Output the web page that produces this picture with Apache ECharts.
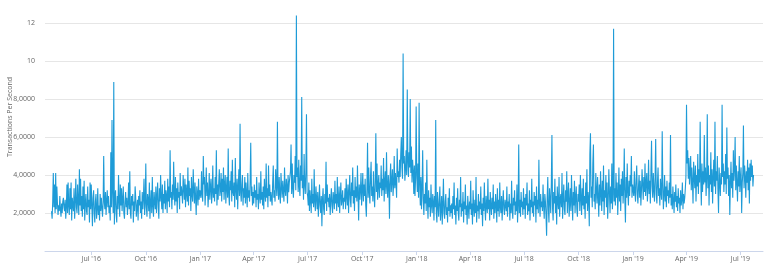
<!DOCTYPE html>
<html><head><meta charset="utf-8">
<script src="https://cdn.jsdelivr.net/npm/echarts@6/dist/echarts.min.js"></script>
<style>html,body{margin:0;padding:0;background:#fff}#c{width:768px;height:266px}</style>
</head><body><div id="c"></div>
<script>
// Y axis ticks and their labels
const yTicks = [0, 2, 4, 6, 8, 10, 12];
const yTickLabels = ['', '2,0000', '4,0000', '6,0000', '8,0000', '10', '12'];
// X axis range and quarterly tick months
const axisStart = '2016-04-14';
const axisEnd = '2019-08-08';
const xTickMonths = [0, 3, 6, 9];
const monthNames = ['Jan','Feb','Mar','Apr','May','Jun','Jul','Aug','Sep','Oct','Nov','Dec'];

// Daily transactions per second, one array per year
const start2016 = '2016-04-25';
const tps2016 = [
2.1,1.7,2.6,4.1,2.3,3.5,
2.0,4.1,2.2,3.4,2.5,1.9,2.4,2.1,2.9,2.2,1.8,2.5,2.0,2.6,2.8,2.3,2.1,2.7,1.7,2.3,3.5,2.0,3.6,2.4,1.9,3.3,2.2,3.6,1.6,2.8,2.4,
2.1,3.3,1.7,2.6,3.8,2.3,2.0,3.5,2.6,1.9,4.3,2.4,3.8,2.1,2.9,1.8,3.4,2.2,3.7,1.6,2.5,3.0,2.1,1.9,3.4,2.3,2.7,1.5,3.6,2.2,
3.5,2.4,1.3,2.8,3.2,2.0,1.5,2.6,3.0,1.7,2.2,3.3,1.9,2.4,1.6,3.0,2.1,2.8,2.3,1.8,2.5,5.0,2.6,2.2,3.1,1.9,2.7,3.2,2.3,2.9,2.0,
2.4,1.6,5.2,2.3,6.9,3.1,2.0,8.9,1.4,2.8,3.2,2.0,1.5,2.9,2.2,4.0,2.6,1.8,3.5,2.4,3.3,2.1,2.7,3.4,2.0,1.7,2.6,3.1,2.3,2.8,1.9,
2.5,3.6,2.2,4.2,2.0,1.7,2.9,2.4,3.0,1.5,2.6,2.1,3.4,2.8,1.8,2.3,2.7,1.6,2.9,2.4,3.2,2.0,2.6,1.7,3.1,2.2,2.8,3.8,1.9,2.5,
4.6,2.3,1.8,3.0,2.7,2.1,3.6,1.7,2.5,3.2,2.0,3.9,2.4,1.8,3.1,2.6,2.2,3.4,2.0,2.9,3.6,2.3,1.7,3.3,2.6,4.0,2.8,2.2,3.5,2.0,3.0,
2.5,3.7,2.2,3.2,2.9,2.0,3.8,2.6,3.4,2.3,5.3,2.8,3.1,2.2,3.5,2.7,4.7,3.0,2.4,3.9,2.6,3.3,2.0,3.6,2.8,3.1,2.2,4.1,2.9,3.4,
3.0,2.5,4.0,3.3,2.7,3.8,2.3,3.5,3.1,2.6,4.4,2.4,3.7,2.9,3.3,2.1,3.9,3.0,2.6,4.3,3.2,2.5,3.6,2.8,1.9,3.4,3.0,2.4,3.8,2.7,3.2
];
const start2017 = '2017-01-01';
const tps2017 = [
3.3,2.8,4.2,3.0,2.6,5.0,3.5,3.9,2.4,3.2,4.4,2.9,3.6,2.3,3.0,4.1,2.7,3.4,3.8,2.5,3.1,4.5,2.8,3.3,2.6,3.9,3.0,5.3,2.4,3.5,2.7,
3.6,4.3,2.9,3.2,4.1,2.6,3.8,3.1,4.4,2.7,3.5,4.0,2.5,3.3,3.9,2.8,5.4,3.0,2.4,3.7,3.2,4.2,2.6,4.8,3.1,2.9,3.6,2.3,
4.9,3.2,2.7,3.8,2.2,3.4,4.3,2.9,6.7,3.1,2.6,3.5,4.0,2.4,3.3,2.8,3.9,2.5,3.6,3.0,2.3,4.1,2.8,3.2,2.6,3.7,5.7,2.9,3.4,2.4,3.1,
2.5,3.5,2.8,3.2,2.3,3.9,2.7,3.0,2.2,3.6,2.9,2.5,4.2,2.7,3.1,2.4,3.4,2.2,3.8,3.0,2.6,4.6,2.8,3.3,2.3,4.5,2.9,3.5,2.6,3.1,
3.0,2.4,3.6,4.5,2.8,3.2,2.6,4.3,3.5,2.9,6.8,3.3,2.7,3.9,3.0,2.5,4.1,3.4,2.8,3.7,3.1,2.6,4.4,3.2,2.9,3.8,3.4,2.5,4.0,3.1,3.6,
3.5,4.2,5.6,3.0,4.6,3.3,2.8,4.0,3.6,5.0,3.2,12.4,3.9,4.4,3.1,4.8,3.4,2.9,4.5,3.7,8.1,3.3,4.0,2.7,5.1,3.5,3.0,4.2,7.2,3.1,
2.9,2.4,3.6,2.1,3.2,2.7,2.0,3.8,2.5,3.0,2.3,4.3,2.6,2.1,3.4,2.8,2.2,3.1,1.8,2.6,3.5,2.4,2.0,2.9,1.3,2.7,3.3,2.2,1.9,3.0,2.5,
4.7,2.1,3.5,2.6,2.8,2.3,3.0,1.9,2.7,3.3,2.4,2.0,3.1,2.8,2.2,3.7,2.5,3.0,2.1,3.9,2.6,2.3,3.4,2.0,2.9,3.6,2.4,2.7,3.2,2.2,2.8,
2.6,3.3,2.2,3.8,2.9,2.4,3.5,2.0,3.1,4.0,2.7,2.3,3.6,2.9,4.4,2.5,3.2,2.1,3.9,2.8,3.4,2.6,4.5,3.0,1.6,3.5,2.7,3.2,4.1,2.4,
3.2,4.1,2.6,3.5,2.9,3.8,2.4,1.8,3.3,5.7,2.8,4.4,3.1,2.5,3.9,4.7,2.9,3.4,2.6,4.2,3.0,2.3,3.7,6.2,3.1,4.6,2.7,3.5,4.0,2.8,3.6,
3.3,4.5,2.9,3.8,3.2,4.9,2.6,3.6,4.2,3.0,5.2,3.4,2.8,4.0,3.5,1.7,3.9,4.6,3.1,3.7,4.3,2.9,3.5,5.0,3.3,4.1,3.6,2.8,5.4,3.9,
4.2,3.6,4.8,3.9,5.1,6.0,4.4,3.8,10.4,4.6,5.0,3.7,4.3,5.3,4.0,8.5,4.7,3.9,5.2,4.4,8.0,4.1,5.5,3.6,4.8,4.2,3.0,4.5,2.9,3.8,7.6
];
const start2018 = '2018-01-01';
const tps2018 = [
4.0,3.1,4.6,2.8,7.8,3.5,2.4,3.9,2.2,3.3,5.3,2.7,1.9,3.0,2.5,3.6,2.1,4.8,2.6,1.7,3.2,2.3,2.8,1.8,3.5,2.4,2.0,3.0,2.6,1.6,2.9,
2.3,6.9,2.0,1.5,3.1,2.4,1.8,2.7,3.4,1.6,2.2,2.9,1.4,2.5,3.8,2.0,1.7,2.6,3.0,1.9,2.3,1.5,2.8,2.1,3.3,1.8,2.4,2.0,
2.5,1.7,2.9,2.2,3.6,1.9,2.4,1.4,2.8,2.1,3.3,2.0,1.6,2.7,2.3,3.9,1.8,2.5,2.1,3.1,1.5,2.6,2.2,3.5,1.9,2.4,1.4,2.9,2.3,1.7,2.6,
2.2,3.7,1.9,2.5,1.4,3.2,2.3,1.8,2.7,2.0,3.9,1.5,2.4,2.1,3.0,1.7,2.6,2.2,3.4,1.9,2.5,1.3,2.8,2.1,3.6,2.3,1.6,2.9,2.4,2.0,
3.8,2.2,2.7,1.6,3.1,2.4,1.9,2.8,2.2,3.5,1.7,2.6,2.0,3.0,2.4,1.5,3.3,2.1,2.7,1.8,3.6,2.3,2.0,2.9,1.6,2.5,3.2,2.2,1.9,2.7,2.4,
2.1,3.4,1.8,2.6,2.3,3.0,1.6,2.5,2.0,3.7,2.2,1.7,2.8,2.4,3.2,1.9,2.6,2.1,3.5,1.5,2.4,5.6,2.0,2.7,1.8,3.1,2.3,2.6,1.9,3.3,
2.2,2.8,1.7,3.0,2.4,3.6,1.9,2.5,2.1,3.2,1.6,2.7,2.3,3.8,2.0,2.6,1.8,3.1,2.4,2.9,1.5,3.4,2.2,2.7,2.0,4.8,2.5,1.8,3.0,2.3,2.6,
2.1,3.5,2.4,1.7,3.0,2.6,1.9,0.8,2.8,3.9,2.2,1.5,3.3,2.7,2.0,3.6,6.1,2.3,1.6,3.1,2.5,3.8,2.0,2.9,1.4,3.4,2.6,2.2,3.9,1.8,2.7,
3.0,2.3,4.1,1.7,2.8,3.5,2.2,1.9,3.2,2.6,4.2,2.0,2.9,3.6,1.8,2.5,3.3,2.1,4.0,2.7,1.6,3.1,2.4,3.7,2.0,2.8,3.4,2.2,1.8,3.0,
2.6,3.5,2.1,4.0,2.8,1.9,3.3,2.4,3.8,2.2,2.9,1.7,3.6,2.5,4.3,2.1,3.1,2.7,1.3,5.1,6.2,2.8,3.4,2.3,4.6,5.6,2.6,3.0,2.2,4.1,3.2,
2.5,3.9,2.9,1.8,3.5,2.4,4.2,3.0,2.1,3.7,2.6,4.5,1.9,3.2,2.8,4.0,2.3,3.6,1.7,2.7,4.3,3.1,2.0,3.4,2.5,4.6,2.2,3.0,11.7,2.6,
3.3,2.4,4.1,2.8,3.6,1.9,3.0,4.4,2.6,3.5,2.1,3.8,2.9,4.2,2.5,3.3,5.4,2.7,1.5,3.9,2.8,4.6,3.1,2.4,3.7,2.9,4.0,3.4,5.0,2.8,3.5
];
const start2019 = '2019-01-01';
const tps2019 = [
3.6,2.9,4.2,3.1,2.6,3.8,4.5,3.0,2.5,3.4,4.0,2.8,3.7,2.4,3.2,4.3,3.5,2.7,3.9,3.1,4.6,2.9,3.6,4.1,2.6,3.3,4.8,3.0,3.7,2.5,4.2,
5.8,3.4,2.8,4.1,3.2,2.6,3.9,5.9,3.0,2.5,3.6,4.4,2.9,3.3,2.4,3.8,3.1,2.7,6.3,3.5,2.2,3.0,4.0,2.6,3.4,2.3,3.7,2.9,
3.2,2.5,3.6,2.8,6.1,2.4,3.0,2.2,3.4,2.7,2.0,3.1,2.6,3.5,2.3,2.9,2.1,3.3,2.5,2.8,2.0,3.2,2.4,2.7,3.6,2.2,3.0,2.5,2.8,3.3,3.9,
7.7,4.6,5.3,3.8,4.9,3.5,4.2,5.0,3.2,4.4,3.6,2.5,4.7,3.9,3.3,4.5,2.6,4.0,3.4,5.1,3.0,4.3,3.6,6.8,3.8,2.4,4.6,3.1,4.2,3.5,
6.1,3.6,4.4,2.9,3.8,7.2,3.3,4.5,2.4,4.0,3.5,5.2,3.1,4.3,2.5,3.9,4.8,3.4,6.8,3.0,4.2,3.7,5.0,3.2,2.0,4.4,3.6,2.9,4.1,3.5,7.7,
3.9,4.6,3.1,4.2,3.5,5.1,3.0,6.5,3.8,4.4,2.9,4.0,1.9,3.6,4.7,3.3,4.1,2.8,5.3,3.7,4.3,6.0,3.2,4.5,3.6,2.6,4.2,3.4,5.0,3.1,
3.8,4.4,2.0,3.6,4.1,6.6,3.3,4.5,3.9,2.8,4.2,3.6,4.8,3.2,4.4,2.5,4.6,3.7,4.8,3.9,4.5,3.4,4.0
];

function ymd(d) {
  const p = n => String(n).padStart(2, '0');
  return d.getUTCFullYear() + '-' + p(d.getUTCMonth() + 1) + '-' + p(d.getUTCDate());
}
function parse(s) { const a = s.split('-').map(Number); return new Date(Date.UTC(a[0], a[1] - 1, a[2])); }

const categories = [];
for (let d = parse(axisStart); d <= parse(axisEnd); d = new Date(d.getTime() + 86400000)) categories.push(ymd(d));

const seriesData = [];
[[start2016, tps2016], [start2017, tps2017], [start2018, tps2018], [start2019, tps2019]].forEach(([s, arr]) => {
  const t0 = parse(s).getTime();
  arr.forEach((v, i) => seriesData.push([ymd(new Date(t0 + i * 86400000)), v]));
});

function isQuarterStart(idx, val) {
  const d = parse(val);
  return d.getUTCDate() === 1 && xTickMonths.indexOf(d.getUTCMonth()) >= 0;
}

const chart = echarts.init(document.getElementById('c'), null, { renderer: 'canvas' });
const font = 'Open Sans, DejaVu Sans, sans-serif';
chart.setOption({
  animation: false,
  backgroundColor: '#ffffff',
  grid: { left: 45, right: 5, top: 23, bottom: 15, containLabel: false, outerBoundsMode: 'none' },
  xAxis: {
    type: 'category',
    data: categories,
    boundaryGap: false,
    axisLine: { lineStyle: { color: '#ccd6eb', width: 1 } },
    axisTick: { interval: isQuarterStart, length: 4, lineStyle: { color: '#ccd6eb' } },
    axisLabel: {
      interval: isQuarterStart,
      margin: 4,
      fontSize: 7,
      fontFamily: font,
      color: '#666666',
      formatter: v => { const d = parse(v); return monthNames[d.getUTCMonth()] + " '" + String(d.getUTCFullYear()).slice(2); }
    },
    splitLine: { show: false }
  },
  yAxis: {
    type: 'value',
    min: yTicks[0],
    max: yTicks[yTicks.length - 1],
    interval: 2,
    name: 'Transactions Per Second',
    nameLocation: 'middle',
    nameGap: 32,
    nameMoveOverlap: false,
    nameTextStyle: { fontSize: 7, fontFamily: font, color: '#666666', padding: [0, 0, 0, 40] },
    axisLine: { show: false },
    axisTick: { show: false },
    axisLabel: {
      margin: 10,
      fontSize: 7,
      fontFamily: font,
      color: '#666666',
      formatter: v => { const i = yTicks.indexOf(v); return i >= 0 ? yTickLabels[i] : ''; }
    },
    splitLine: { lineStyle: { color: '#e6e6e6', width: 1 } }
  },
  series: [{
    type: 'line',
    data: seriesData,
    showSymbol: false,
    symbol: 'none',
    clip: false,
    lineStyle: { color: '#1e9bd7', width: 1.1 },
    itemStyle: { color: '#1e9bd7' }
  }]
});
</script>
</body></html>
